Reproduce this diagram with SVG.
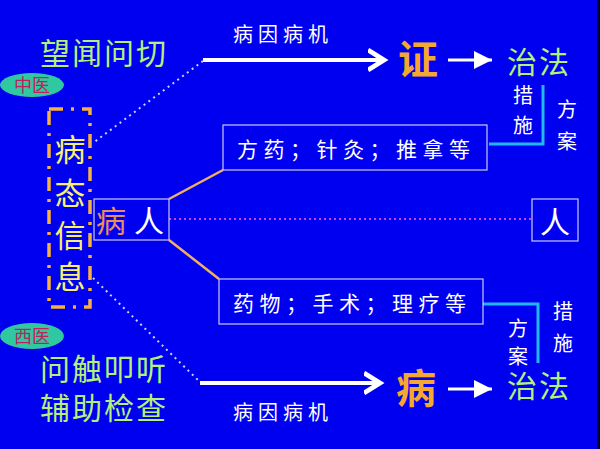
<svg xmlns="http://www.w3.org/2000/svg" width="600" height="449" viewBox="0 0 600 449">
<defs>
<style>
text{font-family:"Noto Sans CJK SC","Noto Sans",sans-serif;}
.g{fill:#b4f07c;font-size:30px;letter-spacing:2px;}
.w{fill:#ffffff;font-size:20px;}
.ws{letter-spacing:5px;}
.bt{fill:#ffffff;font-size:21px;letter-spacing:5.5px;}
.y{fill:#f8f070;font-size:31px;}
.o{fill:#f4a830;font-size:40px;font-weight:bold;}
.box{fill:none;stroke:#c8c8ff;stroke-width:1.2;}
.ol{stroke:#f0b060;stroke-width:2.5;fill:none;}
.cy{stroke:#20b8f0;stroke-width:3;fill:none;}
.dot{stroke:#d0d0ff;stroke-width:2;stroke-dasharray:2 4;fill:none;}
.ar{stroke:#ffffff;fill:none;}
.el{fill:#30c8a0;}
.et{fill:#c0205c;font-size:18px;}
</style>
<marker id="ah" markerWidth="6" markerHeight="6" refX="4" refY="3" orient="auto" markerUnits="strokeWidth">
<path d="M0,0.5 L4,3 L0,5.5" fill="none" stroke="#ffffff" stroke-width="1.2"/>
</marker>
<marker id="ah2" markerWidth="8" markerHeight="8" refX="6" refY="4" orient="auto" markerUnits="strokeWidth">
<path d="M0,1 L6,4 L0,7 Z" fill="#ffffff"/>
</marker>
</defs>
<rect x="0" y="0" width="600" height="449" fill="#0000f0"/>
<rect x="597" y="0" width="3" height="449" fill="#000030"/>

<g id="connectors">
<path class="dot" d="M203,61 L93,143"/>
<path class="dot" d="M93,278 L200,382"/>
<path d="M169,219 L532,219" stroke="#d040f0" stroke-width="2" stroke-dasharray="2 3"/>
<path class="ol" d="M169,199 L223,170"/>
<path class="ol" d="M169,240 L219,279"/>
<path class="ar" stroke-width="4" d="M203,60 L384,60" marker-end="url(#ah)"/>
<path class="ar" stroke-width="4" d="M200,383 L380,383" marker-end="url(#ah)"/>
<path class="ar" stroke-width="3" d="M448,60 L492,60" marker-end="url(#ah2)"/>
<path class="ar" stroke-width="3" d="M448,389 L492,389" marker-end="url(#ah2)"/>
<path class="cy" d="M489,144 L543,144 L543,85"/>
<path class="cy" d="M483,304 L538,304 L538,363"/>
</g>

<g id="tcm-methods"><text class="g" x="40" y="64">望闻问切</text></g>
<g id="tcm-label"><ellipse class="el" cx="32" cy="85" rx="32" ry="12"/><text class="et" x="32" y="91.5" text-anchor="middle">中医</text></g>
<g id="wm-label"><ellipse class="el" cx="32" cy="336" rx="32" ry="13"/><text class="et" x="32" y="342.5" text-anchor="middle">西医</text></g>
<g id="wm-methods"><text class="g" x="40" y="380">问触叩听</text><text class="g" x="40" y="419">辅助检查</text></g>

<g id="state-info">
<rect x="49" y="109" width="41" height="198" fill="none" stroke="#f8b040" stroke-width="3.5" stroke-dasharray="14 8 3 8"/>
<text class="y" x="70" y="161" text-anchor="middle">病</text>
<text class="y" x="70" y="205" text-anchor="middle">态</text>
<text class="y" x="70" y="247" text-anchor="middle">信</text>
<text class="y" x="70" y="288" text-anchor="middle">息</text>
</g>

<g id="patient">
<rect class="box" x="94" y="199" width="75" height="41"/>
<text x="96" y="232" font-size="30" fill="#e8905c">病</text>
<text x="134" y="232" font-size="30" fill="#ffffff">人</text>
</g>

<g id="person">
<rect class="box" x="532" y="199" width="46" height="42"/>
<text x="555" y="233" font-size="30" fill="#ffffff" text-anchor="middle">人</text>
</g>

<g id="tcm-treatments">
<rect class="box" x="223" y="125" width="264" height="45"/>
<text class="bt" x="237" y="157">方药；针灸；推拿等</text>
</g>

<g id="wm-treatments">
<rect class="box" x="219" y="279" width="264" height="45"/>
<text class="bt" x="233" y="311">药物；手术；理疗等</text>
</g>

<g id="top-cause"><text class="w ws" x="233" y="42">病因病机</text></g>
<g id="bottom-cause"><text class="w ws" x="233" y="420">病因病机</text></g>

<g id="syndrome"><text class="o" x="418" y="74" text-anchor="middle">证</text></g>
<g id="disease"><text class="o" x="416" y="403" text-anchor="middle">病</text></g>

<g id="top-treatment"><text class="g" x="539" y="73" text-anchor="middle">治法</text></g>
<g id="bottom-treatment"><text class="g" x="539" y="397" text-anchor="middle">治法</text></g>

<g id="top-measures">
<text class="w" x="523" y="103" text-anchor="middle">措</text>
<text class="w" x="523" y="133" text-anchor="middle">施</text>
</g>
<g id="top-plan">
<text class="w" x="567" y="117" text-anchor="middle">方</text>
<text class="w" x="567" y="149" text-anchor="middle">案</text>
</g>
<g id="bottom-plan">
<text class="w" x="518" y="336" text-anchor="middle">方</text>
<text class="w" x="518" y="364" text-anchor="middle">案</text>
</g>
<g id="bottom-measures">
<text class="w" x="563" y="319" text-anchor="middle">措</text>
<text class="w" x="563" y="351" text-anchor="middle">施</text>
</g>
</svg>
